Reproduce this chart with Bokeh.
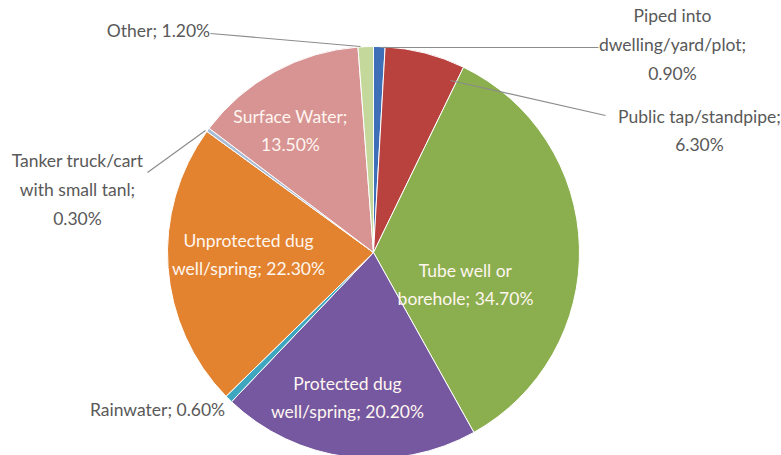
import numpy as np
from bokeh.plotting import figure
from bokeh.models import Range1d, ColumnDataSource
from bokeh.core.properties import value
from bokeh.embed import file_html
from bokeh.resources import INLINE

# ---- data ----
categories = ["Piped into dwelling/yard/plot", "Public tap/standpipe", "Tube well or borehole",
              "Protected dug well/spring", "Rainwater", "Unprotected dug well/spring",
              "Tanker truck/cart with small tanl", "Surface Water", "Other"]
shares = [0.9, 6.3, 34.7, 20.2, 0.6, 22.3, 0.3, 13.5, 1.2]
colors = ["#3F6FB6", "#B9423F", "#8BAF4E", "#7558A0", "#3FA6BF", "#E3832F",
          "#A9BCD6", "#D89393", "#C4D89B"]

# label texts
label_texts = [
    "Piped into\ndwelling/yard/plot;\n0.90%",
    "Public tap/standpipe;\n6.30%",
    "Tube well or\nborehole; 34.70%",
    "Protected dug\nwell/spring; 20.20%",
    "Rainwater; 0.60%",
    "Unprotected dug\nwell/spring; 22.30%",
    "Tanker truck/cart\nwith small tanl;\n0.30%",
    "Surface Water;\n13.50%",
    "Other; 1.20%",
]

# ---- layout (pixels, y measured from top) ----
W, H = 781, 455
CX, CY, R = 373, 252, 206
label_x = [672, 699, 465, 347, 157, 248, 77, 290, 158]
label_y = [44, 130, 284, 397, 409, 254, 189, 130, 30]
label_inside = [False, False, True, True, False, True, False, True, False]
leader_x0 = [598, 605, 147, 210]
leader_y0 = [47, 115, 172, 33]
leader_x1 = [380, 450, 205, 360]
leader_y1 = [47, 80, 130, 46]

p = figure(width=W, height=H, output_backend="svg", toolbar_location=None,
           x_range=Range1d(0, W), y_range=Range1d(0, H), min_border=0)
p.axis.visible = False
p.grid.visible = False
p.outline_line_color = None
p.background_fill_color = "white"
p.border_fill_color = "white"

frac = np.array(shares) / sum(shares)
cum = np.concatenate([[0], np.cumsum(frac)])
start = np.pi / 2 - 2 * np.pi * cum[:-1]
end = np.pi / 2 - 2 * np.pi * cum[1:]

src = ColumnDataSource(dict(start=start, end=end, color=colors, cat=categories))
p.wedge(x=CX, y=H - CY, radius=R, start_angle="start", end_angle="end",
        direction="clock", fill_color="color", line_color="white", line_width=1,
        source=src)

# leader lines
p.segment(x0=leader_x0, y0=[H - v for v in leader_y0], x1=leader_x1,
          y1=[H - v for v in leader_y1], line_color="#8C8C8C", line_width=1.2)

lx_in = [x for x, f in zip(label_x, label_inside) if f]
ly_in = [H - y for y, f in zip(label_y, label_inside) if f]
lt_in = [t for t, f in zip(label_texts, label_inside) if f]
lx_out = [x for x, f in zip(label_x, label_inside) if not f]
ly_out = [H - y for y, f in zip(label_y, label_inside) if not f]
lt_out = [t for t, f in zip(label_texts, label_inside) if not f]

p.text(x=lx_in, y=ly_in, text=lt_in, text_align="center", text_baseline="middle",
       text_font=value("Lato"), text_font_size="17.5px", text_color="#FFF6F0",
       text_line_height=1.37)
p.text(x=lx_out, y=ly_out, text=lt_out, text_align="center", text_baseline="middle",
       text_font=value("Lato"), text_font_size="17.5px", text_color="#595959",
       text_line_height=1.37)

open("out.html", "w").write(file_html(p, INLINE))
